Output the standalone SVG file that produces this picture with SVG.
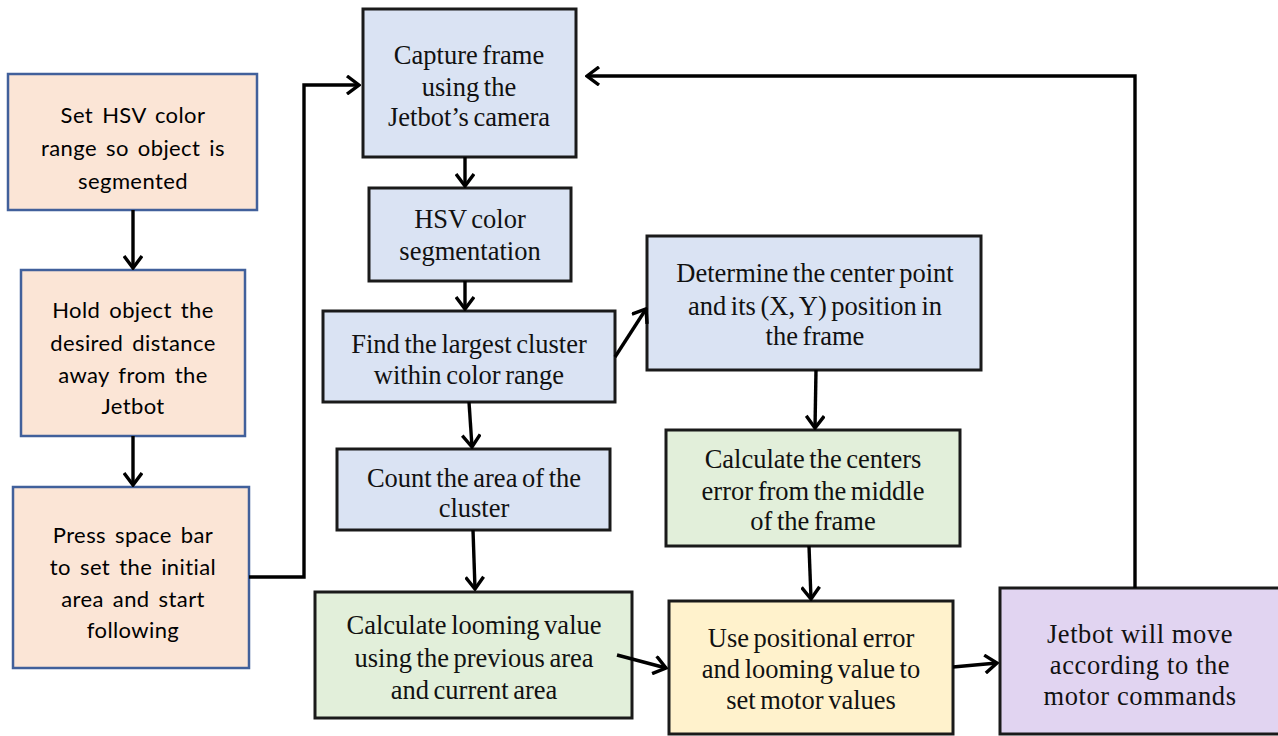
<svg xmlns="http://www.w3.org/2000/svg" width="1278" height="736" viewBox="0 0 1278 736">
<defs>
<marker id="ah" markerUnits="userSpaceOnUse" viewBox="-14 -10 16 20" refX="0" refY="0" markerWidth="16" markerHeight="20" orient="auto">
<path d="M-12,-9 L0,0 L-12,9" fill="none" stroke="#000" stroke-width="3.4"/>
</marker>
</defs>
<style>
.peach{fill:#FBE5D6;stroke:#41609B;stroke-width:2.5}
.blue{fill:#DAE3F3;stroke:#1a1a1a;stroke-width:3}
.green{fill:#E2EFDA;stroke:#1a1a1a;stroke-width:3}
.yellow{fill:#FFF2CC;stroke:#1a1a1a;stroke-width:3}
.purple{fill:#E1D4F1;stroke:#1a1a1a;stroke-width:3}
.sans{font-family:"Lato","Liberation Sans",sans-serif;font-size:22px;fill:#000;text-anchor:middle;word-spacing:3px;letter-spacing:0.4px}
.serif{font-family:"Liberation Serif","Times New Roman",serif;font-size:26.5px;fill:#111;text-anchor:middle;word-spacing:-2px}
.conn{fill:none;stroke:#000;stroke-width:3.4}
</style>
<rect width="1278" height="736" fill="#fff"/>
<g id="n1"><rect class="peach" x="8" y="74" width="249" height="136"/>
<text class="sans" x="133" y="123">Set HSV color</text><text class="sans" x="133" y="156">range so object is</text><text class="sans" x="133" y="189">segmented</text></g>
<g id="n2"><rect class="peach" x="21" y="270" width="224" height="166"/>
<text class="sans" x="133" y="318">Hold object the</text><text class="sans" x="133" y="351">desired distance</text><text class="sans" x="133" y="383">away from the</text><text class="sans" x="133" y="414">Jetbot</text></g>
<g id="n3"><rect class="peach" x="13" y="487" width="236" height="181"/>
<text class="sans" x="133" y="543">Press space bar</text><text class="sans" x="133" y="575">to set the initial</text><text class="sans" x="133" y="607">area and start</text><text class="sans" x="133" y="638">following</text></g>
<g id="n4"><rect class="blue" x="363" y="9" width="213" height="148"/>
<text class="serif" x="469" y="64">Capture frame</text><text class="serif" x="469" y="96">using the</text><text class="serif" x="469" y="126">Jetbot’s camera</text></g>
<g id="n5"><rect class="blue" x="369" y="188" width="202" height="93"/>
<text class="serif" x="470" y="228">HSV color</text><text class="serif" x="470" y="260">segmentation</text></g>
<g id="n6"><rect class="blue" x="323" y="311" width="292" height="91"/>
<text class="serif" x="469" y="353">Find the largest cluster</text><text class="serif" x="469" y="384">within color range</text></g>
<g id="n7"><rect class="blue" x="337" y="449" width="273" height="81"/>
<text class="serif" x="474" y="487">Count the area of the</text><text class="serif" x="474" y="517">cluster</text></g>
<g id="n8"><rect class="green" x="315" y="592" width="317" height="126"/>
<text class="serif" x="474" y="634">Calculate looming value</text><text class="serif" x="474" y="667">using the previous area</text><text class="serif" x="474" y="699">and current area</text></g>
<g id="n9"><rect class="blue" x="647" y="236" width="334" height="134"/>
<text class="serif" x="815" y="282">Determine the center point</text><text class="serif" x="815" y="315">and its (X, Y) position in</text><text class="serif" x="815" y="345">the frame</text></g>
<g id="n10"><rect class="green" x="666" y="430" width="294" height="116"/>
<text class="serif" x="813" y="468">Calculate the centers</text><text class="serif" x="813" y="500">error from the middle</text><text class="serif" x="813" y="530">of the frame</text></g>
<g id="n11"><rect class="yellow" x="669" y="601" width="284" height="133"/>
<text class="serif" x="811" y="647">Use positional error</text><text class="serif" x="811" y="678">and looming value to</text><text class="serif" x="811" y="709">set motor values</text></g>
<g id="n12"><rect class="purple" x="1000" y="588" width="280" height="146"/>
<text class="serif" x="1140" y="643" style="letter-spacing:0.6px;word-spacing:0">Jetbot will move</text><text class="serif" x="1140" y="674" style="letter-spacing:0.6px;word-spacing:0">according to the</text><text class="serif" x="1140" y="705" style="letter-spacing:0.6px;word-spacing:0">motor commands</text></g>
<g id="connectors">
<path class="conn" d="M133,210 L133,268" marker-end="url(#ah)"/>
<path class="conn" d="M133,436 L133,485" marker-end="url(#ah)"/>
<path class="conn" d="M249,577 L304,577 L304,85 L359,85" marker-end="url(#ah)"/>
<path class="conn" d="M465,157 L465,186" marker-end="url(#ah)"/>
<path class="conn" d="M465,281 L465,309" marker-end="url(#ah)"/>
<path class="conn" d="M469,402 L472,447" marker-end="url(#ah)"/>
<path class="conn" d="M473,530 L475,589" marker-end="url(#ah)"/>
<path class="conn" d="M615,357 L646,309" marker-end="url(#ah)"/>
<path class="conn" d="M816,370 L815,428" marker-end="url(#ah)"/>
<path class="conn" d="M809,546 L811,599" marker-end="url(#ah)"/>
<path class="conn" d="M617,655 L666,668" marker-end="url(#ah)"/>
<path class="conn" d="M953,667 L997,663" marker-end="url(#ah)"/>
<path class="conn" d="M1135,588 L1135,76 L587,76" marker-end="url(#ah)"/>
</g>
</svg>
